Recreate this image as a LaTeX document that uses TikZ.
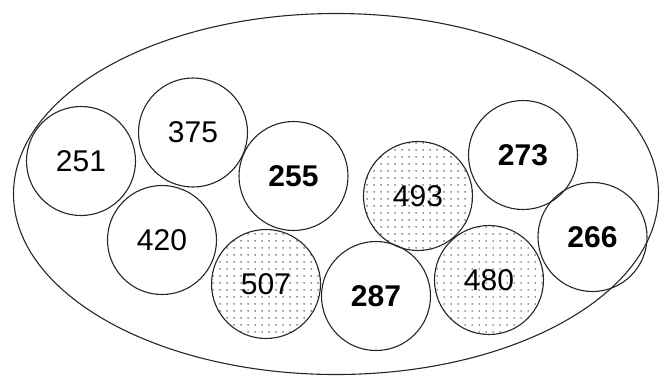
\documentclass[tikz,border=0pt]{standalone}
\usepackage{fontspec}
\setmainfont{Liberation Sans}
\usetikzlibrary{patterns,shapes.geometric}
\pgfdeclarepatternformonly{finedots}{\pgfpointorigin}{\pgfqpoint{7pt}{7pt}}{\pgfqpoint{7pt}{7pt}}{%
  \pgfpathcircle{\pgfqpoint{3.5pt}{3.5pt}}{0.85pt}\pgfusepath{fill}}
\tikzset{
  ball/.style    = {circle, draw=black!85, line width=1.1pt, inner sep=0pt,
                    minimum size=109pt, font=\fontsize{30}{32}\selectfont},
  dotball/.style = {ball, pattern=finedots, pattern color=black!80},
  heavy/.style   = {font=\fontsize{30}{32}\selectfont\bfseries},
}
\begin{document}
\begin{tikzpicture}[x=1pt,y=-1pt]
  \useasboundingbox (0,0) rectangle (660,376);
  \node[ellipse, draw=black!85, line width=1.1pt, minimum width=645pt, minimum height=361pt,
        inner sep=0pt] (pool) at (336,194) {};
  \node[ball] (n251) at (81,161) {251};
  \node[ball] (n375) at (193,132.5) {375};
  \node[ball,heavy] (n255) at (293.5,176) {255};
  \node[ball] (n420) at (162,240) {420};
  \node[dotball] (n507) at (266,284) {507};
  \node[ball,heavy] (n287) at (376,296) {287};
  \node[dotball] (n493) at (418,196) {493};
  \node[dotball] (n480) at (489,280) {480};
  \node[ball,heavy] (n273) at (523,155) {273};
  \node[ball,heavy] (n266) at (592.5,237) {266};
\end{tikzpicture}
\end{document}
